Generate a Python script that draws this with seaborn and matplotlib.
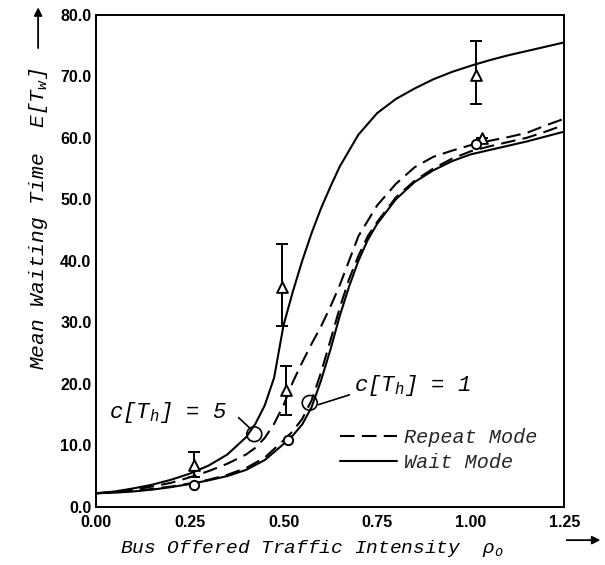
import numpy as np
import pandas as pd
import matplotlib
matplotlib.use("Agg")
import matplotlib.pyplot as plt
import seaborn as sns
from matplotlib.patches import Ellipse, FancyArrowPatch
from matplotlib.lines import Line2D

# curve samples
rho_wait5 = [0, 0.05, 0.1, 0.15, 0.2, 0.25, 0.3, 0.35, 0.4, 0.425, 0.45, 0.475, 0.5, 0.525, 0.55,
             0.575, 0.6, 0.625, 0.65, 0.7, 0.75, 0.8, 0.85, 0.9, 0.95, 1.0, 1.05, 1.1, 1.15, 1.2, 1.25]
tw_wait5 = [2.2, 2.5, 3.0, 3.6, 4.4, 5.4, 6.7, 8.5, 11.3, 13.5, 16.5, 21.0, 29.5, 35.0, 40.0,
            44.5, 48.5, 52.0, 55.3, 60.5, 64.0, 66.3, 68.0, 69.5, 70.7, 71.7, 72.6, 73.4, 74.1, 74.8, 75.5]

rho_rep5 = [0, 0.05, 0.1, 0.15, 0.2, 0.25, 0.3, 0.35, 0.4, 0.425, 0.45, 0.475, 0.5, 0.525, 0.55,
            0.575, 0.6, 0.625, 0.65, 0.675, 0.7, 0.75, 0.8, 0.85, 0.9, 0.95, 1.0, 1.05, 1.1, 1.15, 1.2, 1.25]
tw_rep5 = [2.2, 2.4, 2.8, 3.3, 3.9, 4.8, 5.8, 7.0, 8.5, 9.6, 11.2, 13.5, 16.5, 20.3, 23.5,
           26.5, 29.3, 32.5, 36.0, 40.0, 44.0, 49.0, 52.5, 55.2, 56.9, 57.9, 58.8, 59.5, 60.1, 60.8, 62.0, 63.1]

rho_c1 = [0, 0.05, 0.1, 0.15, 0.2, 0.25, 0.3, 0.35, 0.4, 0.45, 0.5, 0.525, 0.55, 0.575, 0.6,
          0.625, 0.65, 0.675, 0.7, 0.725, 0.75, 0.8, 0.85, 0.9, 0.95, 1.0, 1.05, 1.1, 1.15, 1.2, 1.25]
tw_rep1 = [2.2, 2.35, 2.6, 2.9, 3.3, 3.8, 4.4, 5.2, 6.3, 8.0, 10.8, 12.3, 14.3, 17.3, 21.8,
           27.0, 32.3, 37.0, 40.8, 44.0, 46.3, 50.3, 53.0, 55.0, 56.6, 57.8, 58.6, 59.3, 60.0, 61.0, 62.1]
tw_wait1 = [2.2, 2.3, 2.5, 2.8, 3.2, 3.7, 4.3, 5.0, 6.0, 7.6, 10.2, 11.6, 13.4, 16.2, 20.5,
            25.5, 31.0, 35.8, 40.0, 43.4, 46.0, 50.0, 52.8, 54.7, 56.2, 57.3, 58.0, 58.7, 59.4, 60.2, 61.0]

# simulation points
sim_rho_tri = [0.26, 0.497, 0.507, 1.015, 1.03]
sim_tw_tri = [6.8, 35.8, 19.0, 70.2, 60.0]
sim_err_lo = [4.9, 29.4, 15.0, 65.5, 60.0]
sim_err_hi = [8.9, 42.8, 22.9, 75.8, 60.0]
sim_rho_circ = [0.26, 0.513, 1.015]
sim_tw_circ = [3.6, 10.9, 58.9]

x_ticks = [0.0, 0.25, 0.5, 0.75, 1.0, 1.25]
y_ticks = [0, 10, 20, 30, 40, 50, 60, 70, 80]

sns.set_style("white")
plt.rcParams["mathtext.fontset"] = "custom"
plt.rcParams["mathtext.rm"] = "Liberation Mono"
plt.rcParams["mathtext.it"] = "Liberation Mono:italic"

fig = plt.figure(figsize=(6.05, 5.65), dpi=100)
ax = fig.add_axes([0.159, 0.103, 0.774, 0.871])

dash = (0, (7, 3.5))
curves = [
    (rho_wait5, tw_wait5, "-"),
    (rho_rep5, tw_rep5, dash),
    (rho_c1, tw_rep1, dash),
    (rho_c1, tw_wait1, "-"),
]
for xs, ys, ls in curves:
    sns.lineplot(x=xs, y=ys, ax=ax, color="black", linewidth=1.5, linestyle=ls, sort=False)

# error bars and markers
ax.errorbar(sim_rho_tri, sim_tw_tri,
            yerr=[np.array(sim_tw_tri) - np.array(sim_err_lo), np.array(sim_err_hi) - np.array(sim_tw_tri)],
            fmt="none", ecolor="black", elinewidth=1.4, capsize=4, capthick=1.4)
sns.scatterplot(x=sim_rho_tri, y=sim_tw_tri, ax=ax, marker="^", s=60, facecolor="white",
                edgecolor="black", linewidth=1.4, zorder=5)
sns.scatterplot(x=sim_rho_circ, y=sim_tw_circ, ax=ax, marker="o", s=45, facecolor="white",
                edgecolor="black", linewidth=1.4, zorder=5)

ax.set_xlim(0, 1.25)
ax.set_ylim(0, 80)
ax.set_xticks(x_ticks)
ax.set_xticklabels([f"{v:.2f}" for v in x_ticks])
ax.set_yticks(y_ticks)
ax.set_yticklabels([f"{v:.1f}" for v in y_ticks])
ax.tick_params(direction="in", length=5, width=1.2, colors="black")
ax.tick_params(axis="x", pad=6)
for lab in ax.get_xticklabels() + ax.get_yticklabels():
    lab.set_fontfamily("Liberation Sans")
    lab.set_fontweight("bold")
    lab.set_fontsize(11.5)
for sp in ax.spines.values():
    sp.set_color("black")
    sp.set_linewidth(1.4)
ax.set_xlabel("")
ax.set_ylabel("")

mono = dict(family="Liberation Mono", style="italic", color="black")

# c[Th] markers
ax.add_patch(Ellipse((0.422, 11.8), 0.04, 2.4, fill=False, lw=1.2, color="black"))
ax.plot([0.38, 0.41], [14.5, 12.8], color="black", lw=1.2)
ax.text(0.035, 15.3, r"c[$T_h$] = 5", fontsize=16, va="center", **mono)
ax.add_patch(Ellipse((0.57, 16.9), 0.04, 2.4, fill=False, lw=1.2, color="black"))
ax.plot([0.593, 0.676], [16.6, 18.2], color="black", lw=1.2)
ax.text(0.688, 19.8, r"c[$T_h$] = 1", fontsize=16, va="center", **mono)

handles = [Line2D([], [], color="black", lw=1.5, linestyle=dash),
           Line2D([], [], color="black", lw=1.5, linestyle="-")]
leg = ax.legend(handles, ["Repeat Mode", "Wait Mode"], loc="lower left",
                bbox_to_anchor=(0.5, 0.05), frameon=False, handlelength=2.8, borderpad=0,
                handletextpad=0.35, labelspacing=0.3, prop=dict(family="Liberation Mono", style="italic", size=14.5))

# axis titles with arrows, as in the scan
fig.text(0.063, 0.345, r"Mean Waiting Time  E[$T_w$]", rotation=90, fontsize=15.3,
         va="bottom", ha="center", **mono)
fig.text(0.198, 0.03, r"Bus Offered Traffic Intensity  $\rho_o$", fontsize=14,
         va="center", ha="left", **mono)
fig.add_artist(FancyArrowPatch((0.063, 0.91), (0.063, 0.992), transform=fig.transFigure,
                               arrowstyle="-|>", mutation_scale=12, color="black", lw=1.3))
fig.add_artist(FancyArrowPatch((0.932, 0.044), (0.997, 0.044), transform=fig.transFigure,
                               arrowstyle="-|>", mutation_scale=12, color="black", lw=1.3))

fig.savefig("out.png", dpi=100)
